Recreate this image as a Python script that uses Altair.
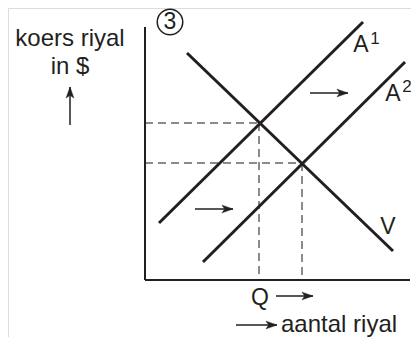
import altair as alt
import pandas as pd

# Conceptual diagram coordinates (quantity on x, exchange rate on y)
line_names = ["A1", "A2", "V"]
line_x0 = [1.4, 5.8, 4.2]
line_y0 = [5.7, 1.8, 22.7]
line_x1 = [21.8, 26.0, 24.8]
line_y1 = [25.8, 21.8, 2.9]

# Equilibrium points
eq_x = [11.4, 15.7]
eq_y = [15.7, 11.7]

# Axes extent
axis_xmax = 26.5
axis_ymax = 25.3

# Arrows: start, end
arrow_x0 = [-7.5, 16.5, 5.0, 13.1, 9.1]
arrow_y0 = [15.5, 18.7, 7.1, -1.6, -4.5]
arrow_x1 = [-7.5, 20.3, 8.8, 16.8, 13.2]
arrow_y1 = [19.3, 18.7, 7.1, -1.6, -4.5]
arrow_angle = [270, 0, 0, 0, 0]

# Labels
label_text = ["koers riyal", "in $"]
label_x = [-7.5, -7.5]
label_y = [24.1, 21.3]
letter_text = ["3", "A", "A", "V", "Q"]
letter_x = [2.5, 21.6, 24.8, 24.3, 11.5]
letter_y = [25.8, 23.5, 18.6, 5.3, -1.8]
sup_text = ["1", "2"]
sup_x = [23.0, 26.2]
sup_y = [24.1, 19.3]

XD = [-13.7, 26.6]
YD = [-5.7, 27.2]
W, H = 403, 329
INK = "#231f20"
FONT = "Liberation Sans"

xs = alt.Scale(domain=XD, nice=False, zero=False)
ys = alt.Scale(domain=YD, nice=False, zero=False)
noax = None

lines = pd.DataFrame({"name": line_names, "x": line_x0, "y": line_y0, "x2": line_x1, "y2": line_y1})
axes_df = pd.DataFrame({"x": [0, 0], "y": [0, 0], "x2": [0, axis_xmax], "y2": [axis_ymax, 0]})

dash_rows = []
for ex, ey in zip(eq_x, eq_y):
    dash_rows.append({"x": 0, "y": ey, "x2": ex, "y2": ey})
    dash_rows.append({"x": ex, "y": ey, "x2": ex, "y2": 0})
dashes = pd.DataFrame(dash_rows)

arrows = pd.DataFrame({"x": arrow_x0, "y": arrow_y0, "x2": arrow_x1, "y2": arrow_y1})
heads = pd.DataFrame({"x": arrow_x1, "y": arrow_y1, "angle": arrow_angle})

labels = pd.DataFrame({"t": label_text, "x": label_x, "y": label_y})
letters = pd.DataFrame({"t": letter_text, "x": letter_x, "y": letter_y})
sups = pd.DataFrame({"t": sup_text, "x": sup_x, "y": sup_y})
circle_df = pd.DataFrame({"x": [letter_x[0]], "y": [letter_y[0]]})
aantal = pd.DataFrame({"t": ["aantal riyal"], "x": [13.6], "y": [-4.5]})

X = lambda: alt.X("x:Q", scale=xs, axis=noax)
Y = lambda: alt.Y("y:Q", scale=ys, axis=noax)


def seg(df, **kw):
    return alt.Chart(df).mark_rule(**kw).encode(x=X(), y=Y(), x2="x2:Q", y2="y2:Q")


axes_layer = seg(axes_df, color=INK, strokeWidth=2)
dash_layer = seg(dashes, color="#666666", strokeWidth=1.5, strokeDash=[8, 5])
line_layer = seg(lines, color=INK, strokeWidth=3)
arrow_layer = seg(arrows, color=INK, strokeWidth=1.5)
head_layer = alt.Chart(heads).mark_point(
    shape="M0,0L-2,-0.7L-1.5,0L-2,0.7Z", filled=True, fill=INK, stroke=INK,
    strokeWidth=0.5, size=121, opacity=1
).encode(x=X(), y=Y(), angle=alt.Angle("angle:Q", scale=None))

circle_layer = alt.Chart(circle_df).mark_point(
    shape="circle", filled=False, color=INK, size=650, strokeWidth=1.5, opacity=1
).encode(x=X(), y=Y())

text_layer = alt.Chart(labels).mark_text(
    font=FONT, fontSize=24, color=INK, align="center", baseline="middle"
).encode(x=X(), y=Y(), text="t:N")

letter_layer = alt.Chart(letters).mark_text(
    font=FONT, fontSize=23, color=INK, align="center", baseline="middle"
).encode(x=X(), y=Y(), text="t:N")

sup_layer = alt.Chart(sups).mark_text(
    font=FONT, fontSize=17, color=INK, align="center", baseline="middle"
).encode(x=X(), y=Y(), text="t:N")

aantal_layer = alt.Chart(aantal).mark_text(
    font=FONT, fontSize=24, color=INK, align="left", baseline="middle"
).encode(x=X(), y=Y(), text="t:N")

chart = alt.layer(
    dash_layer, axes_layer, line_layer, arrow_layer, head_layer,
    circle_layer, text_layer, letter_layer, sup_layer, aantal_layer
).properties(
    width=W, height=H, padding=0, autosize=alt.AutoSizeParams(type="none")
).configure_view(stroke=None).configure(background="white")

chart.save("out.html", embed_options={"renderer": "svg", "actions": False})
